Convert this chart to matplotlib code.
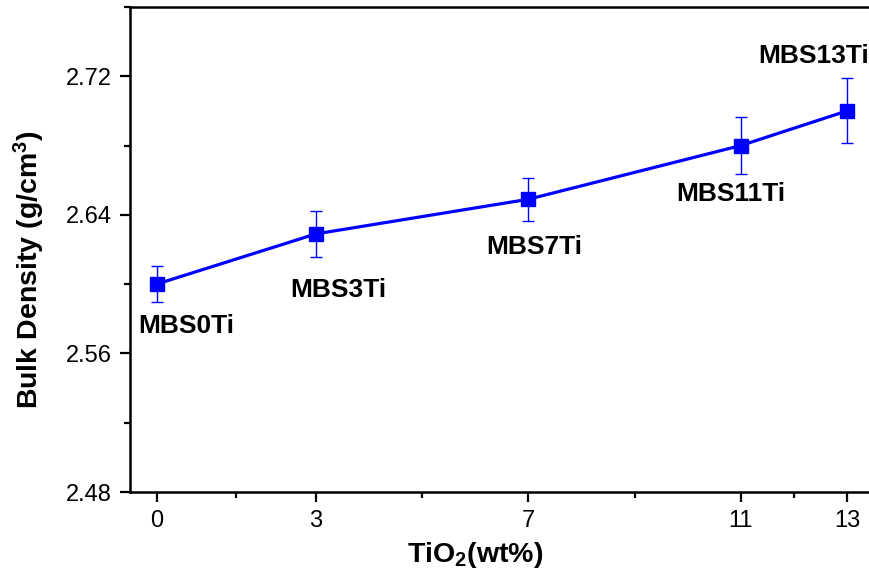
import matplotlib
matplotlib.use("Agg")
import matplotlib.pyplot as plt
from matplotlib.ticker import FixedLocator

plt.rcParams['font.family'] = ['Liberation Sans', 'DejaVu Sans']
plt.rcParams['mathtext.fontset'] = 'custom'
plt.rcParams['mathtext.rm'] = 'Liberation Sans:bold'
plt.rcParams['mathtext.bf'] = 'Liberation Sans:bold'
plt.rcParams['mathtext.default'] = 'bf'

# Data
tio2 = [0, 3, 7, 11, 13]
density = [2.600, 2.629, 2.649, 2.680, 2.700]
errors = [0.0104, 0.0132, 0.0125, 0.0164, 0.0188]
sample_names = ["MBS0Ti", "MBS3Ti", "MBS7Ti", "MBS11Ti", "MBS13Ti"]
label_x = [0.56, 3.42, 7.11, 10.82, 12.38]
label_y = [2.5758, 2.5965, 2.6213, 2.6519, 2.7315]
x_ticks = [0, 3, 7, 11, 13]
x_minor = [1.5, 5, 9, 12]
y_ticks = [2.48, 2.56, 2.64, 2.72]
y_minor = [2.52, 2.60, 2.68, 2.76]

fig = plt.figure(figsize=(8.69, 5.78), dpi=100)
ax = fig.add_axes([130/869, 86/578, 743.5/869, 485/578])

blue = '#0000ff'
ax.errorbar(tio2, density, yerr=errors, color=blue, lw=2.3, marker='s',
            markersize=10, ecolor=blue, elinewidth=1.0, capsize=4.5, capthick=1.0)

for name, lx, ly in zip(sample_names, label_x, label_y):
    ax.text(lx, ly, name, ha='center', va='center', fontsize=19,
            fontweight='bold', color='#000000')

ax.set_xlim(-0.5, 13.5)
ax.set_ylim(2.48, 2.76)
ax.set_xticks(x_ticks)
ax.set_xticklabels([str(t) for t in x_ticks])
ax.xaxis.set_minor_locator(FixedLocator(x_minor))
ax.set_yticks(y_ticks)
ax.set_yticklabels([f"{t:.2f}" for t in y_ticks])
ax.yaxis.set_minor_locator(FixedLocator(y_minor))

ax.spines['right'].set_visible(False)
for s in ['left', 'bottom', 'top']:
    ax.spines[s].set_linewidth(1.8)
ax.tick_params(which='major', direction='out', length=7, width=1.6, labelsize=17, pad=6)
ax.tick_params(which='minor', direction='out', length=4, width=1.6)

ax.set_xlabel(r"TiO$_2$(wt%)", fontsize=20.5, fontweight='bold')
ax.set_ylabel(r"Bulk Density (g/cm$^3$)", fontsize=20.5, fontweight='bold')
ax.xaxis.set_label_coords(0.464, -0.099)
ax.yaxis.set_label_coords(-0.112, 0.458)

fig.savefig("out.png", dpi=100)
